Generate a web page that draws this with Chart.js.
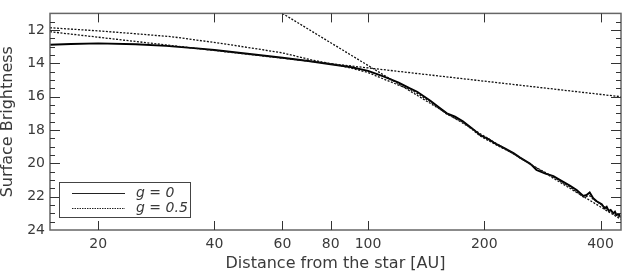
<!DOCTYPE html>
<html>
<head>
<meta charset="utf-8">
<script src="https://cdn.jsdelivr.net/npm/chart.js@4.4.0/dist/chart.umd.min.js"></script>
<style>
  html, body { margin: 0; padding: 0; background: #fff; }
</style>
</head>
<body>
<canvas id="sb-chart" width="622" height="277"></canvas>
<script>
// distance from the star [AU] and surface brightness
const rG0 = [15, 17, 20, 25, 30, 36, 40, 50, 60, 70, 80, 90, 100, 110, 120, 128, 134, 145, 154, 160,
  168, 176, 186, 195, 205, 215, 226, 238, 247, 263, 273, 287, 302, 317, 333, 347, 361, 368, 375, 383,
  391, 403, 410, 415, 420, 425, 432, 436, 440, 446, 452];
const sbG0 = [12.88, 12.84, 12.8, 12.85, 12.95, 13.1, 13.2, 13.45, 13.66, 13.86, 14.05, 14.22, 14.45, 14.8, 15.15, 15.48, 15.7, 16.24, 16.71, 17.0,
  17.2, 17.47, 17.9, 18.3, 18.55, 18.85, 19.1, 19.38, 19.64, 20.02, 20.4, 20.6, 20.77, 21.05, 21.34, 21.6, 21.95, 21.9, 21.75, 22.1,
  22.28, 22.45, 22.7, 22.6, 22.85, 22.8, 23.0, 22.9, 23.1, 23.05, 23.25];

const rG05 = [15, 20, 25, 31, 36, 43, 50, 60, 71, 80, 90, 100, 110, 120, 130, 136, 145, 160, 176, 195,
  215, 238, 263, 302, 333, 361, 375, 383, 403, 425, 452];
const sbG05 = [11.86, 12.05, 12.22, 12.4, 12.6, 12.85, 13.08, 13.37, 13.78, 14.02, 14.27, 14.55, 14.95, 15.3, 15.62, 15.9, 16.3, 17.05, 17.52, 18.35,
  18.9, 19.42, 20.05, 20.82, 21.4, 22.02, 21.95, 22.15, 22.5, 22.9, 23.25];

// the two straight power-law fits (inner and outer disk)
const rInnerFit = [15, 452];
const sbInnerFit = [12.1, 16.0];
const rOuterFit = [60, 452];
const sbOuterFit = [11.0, 23.36];

const xTicks = [20, 40, 60, 80, 100, 200, 400];
const yTicks = [12, 14, 16, 18, 20, 22, 24];
const legendLabels = ['g = 0', 'g = 0.5'];

const FONT = 'DejaVu Sans';
const TEXT = '#3a3a3a';

function pts(xs, ys) {
  return xs.map((x, i) => ({ x: x, y: ys[i] }));
}

// box round the plot with inward ticks on all four sides
const frameTicks = {
  id: 'frameTicks',
  afterDatasetsDraw(chart) {
    const { ctx, chartArea: a, scales: { x, y } } = chart;
    ctx.save();
    ctx.strokeStyle = '#666';
    ctx.lineWidth = 1.5;
    ctx.strokeRect(a.left, a.top, a.right - a.left, a.bottom - a.top);
    ctx.strokeStyle = '#333';
    ctx.lineWidth = 1;
    ctx.beginPath();
    xTicks.forEach(v => {
      const px = Math.round(x.getPixelForValue(v)) + 0.5;
      ctx.moveTo(px, a.bottom); ctx.lineTo(px, a.bottom - 9);
      ctx.moveTo(px, a.top); ctx.lineTo(px, a.top + 9);
    });
    for (let v = 11.5; v < 24; v += 0.5) {
      const py = Math.round(y.getPixelForValue(v)) + 0.5;
      const len = (v % 2 === 0) ? 10 : 5;
      ctx.moveTo(a.left, py); ctx.lineTo(a.left + len, py);
      ctx.moveTo(a.right, py); ctx.lineTo(a.right - len, py);
    }
    ctx.stroke();
    ctx.restore();
  }
};

// boxed legend in the lower left corner
const boxLegend = {
  id: 'boxLegend',
  afterDraw(chart) {
    const { ctx, chartArea: a } = chart;
    const bx = a.left + 9, by = a.bottom - 48, bw = 131, bh = 35;
    ctx.save();
    ctx.fillStyle = '#fff';
    ctx.fillRect(bx, by, bw, bh);
    ctx.strokeStyle = '#444';
    ctx.lineWidth = 1;
    ctx.strokeRect(bx + 0.5, by + 0.5, bw, bh);
    const rows = [chart.data.datasets[3], chart.data.datasets[2]];
    rows.forEach((ds, i) => {
      const ly = Math.round(by + 11 + i * 14.5) + 0.5;
      ctx.strokeStyle = '#222';
      ctx.lineWidth = 1;
      ctx.setLineDash(i === 0 ? [] : [1.5, 1]);
      ctx.beginPath();
      ctx.moveTo(bx + 13, ly);
      ctx.lineTo(bx + 66, ly);
      ctx.stroke();
      ctx.setLineDash([]);
      ctx.fillStyle = TEXT;
      ctx.font = 'italic 14px "' + FONT + '"';
      ctx.textBaseline = 'middle';
      ctx.fillText(ds.label, bx + 77, ly);
    });
    ctx.restore();
  }
};

const data = {
  datasets: [
    {
      label: 'inner fit',
      data: pts(rInnerFit, sbInnerFit),
      borderColor: '#111',
      borderWidth: 1.3,
      borderDash: [2, 1.5],
      pointRadius: 0
    },
    {
      label: 'outer fit',
      data: pts(rOuterFit, sbOuterFit),
      borderColor: '#111',
      borderWidth: 1.3,
      borderDash: [2, 1.5],
      pointRadius: 0
    },
    {
      label: legendLabels[1],
      data: pts(rG05, sbG05),
      borderColor: '#111',
      borderWidth: 1.3,
      borderDash: [2, 1.5],
      pointRadius: 0
    },
    {
      label: legendLabels[0],
      data: pts(rG0, sbG0),
      borderColor: '#000',
      borderWidth: 1.9,
      pointRadius: 0
    }
  ]
};

const config = {
  type: 'line',
  data: data,
  plugins: [frameTicks, boxLegend],
  options: {
    responsive: false,
    animation: false,
    layout: { padding: { top: 1, right: 1, left: 0, bottom: 0 } },
    plugins: { legend: { display: false }, tooltip: { enabled: false } },
    scales: {
      x: {
        type: 'logarithmic',
        min: 15,
        max: 452,
        grid: { display: false, drawTicks: false },
        border: { display: false },
        afterBuildTicks: s => { s.ticks = xTicks.map(v => ({ value: v })); },
        afterFit: s => { s.height = 47; },
        ticks: {
          autoSkip: false,
          maxRotation: 0,
          padding: 6,
          color: TEXT,
          font: { family: FONT, size: 14 },
          callback: v => String(v)
        },
        title: {
          display: true,
          text: 'Distance from the star [AU]',
          color: TEXT,
          font: { family: FONT, size: 16, lineHeight: 1 },
          padding: { top: 0, bottom: 5 }
        }
      },
      y: {
        type: 'linear',
        reverse: true,
        min: 11,
        max: 24,
        grid: { display: false, drawTicks: false },
        border: { display: false },
        afterBuildTicks: s => { s.ticks = yTicks.map(v => ({ value: v })); },
        afterFit: s => { s.width = 50; },
        ticks: {
          padding: 5,
          color: TEXT,
          font: { family: FONT, size: 14 }
        },
        title: {
          display: true,
          text: 'Surface Brightness',
          color: TEXT,
          font: { family: FONT, size: 16, lineHeight: 1 },
          padding: { top: 0, bottom: 0 }
        }
      }
    }
  }
};

const sbChart = new Chart(document.getElementById('sb-chart'), config);
</script>
</body>
</html>
